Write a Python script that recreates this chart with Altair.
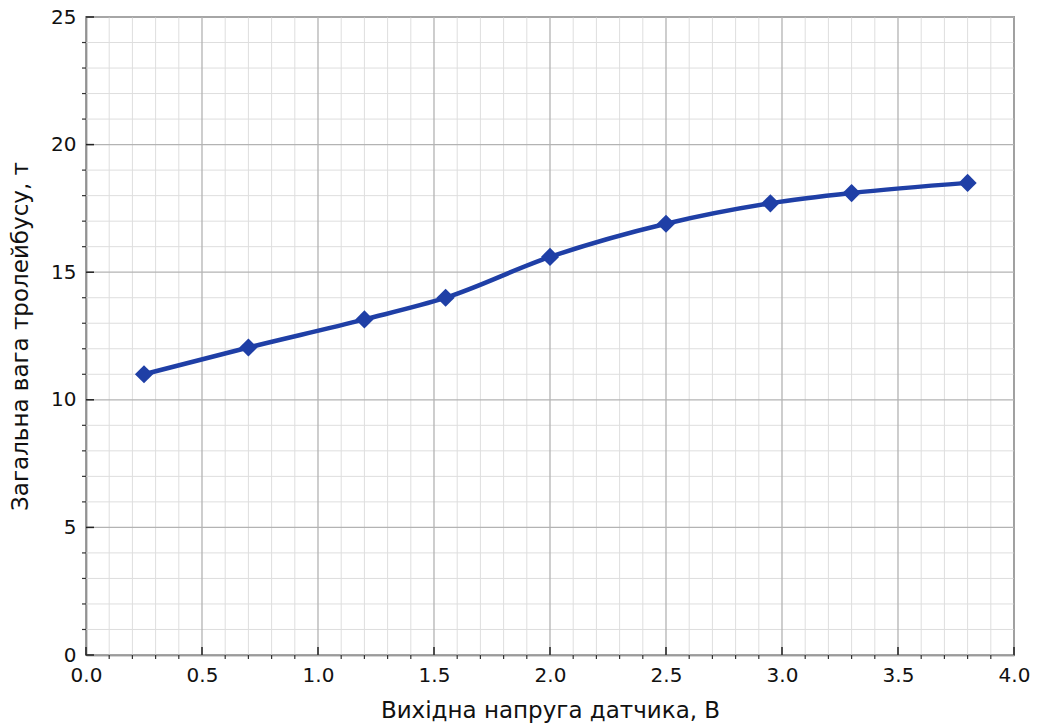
import altair as alt
import pandas as pd

# data
volts = [0.25, 0.70, 1.20, 1.55, 2.00, 2.50, 2.95, 3.30, 3.80]
weight = [11.0, 12.05, 13.15, 14.0, 15.6, 16.9, 17.7, 18.1, 18.5]

x_major = [0.0, 0.5, 1.0, 1.5, 2.0, 2.5, 3.0, 3.5, 4.0]
x_minor = [round(i * 0.1, 1) for i in range(41)]
y_major = [0, 5, 10, 15, 20, 25]
y_minor = list(range(26))

W, H = 928, 638
FONT = "DejaVu Sans"
LINE_COLOR = "#1f3fa6"

df = pd.DataFrame({"v": volts, "w": weight})
xs = alt.Scale(domain=[0, 4], nice=False, zero=False)
ys = alt.Scale(domain=[0, 25], nice=False, zero=False)

x_axis = alt.Axis(
    values=x_major, format=".1f", grid=False, ticks=False,
    labelFontSize=20, labelFont=FONT, labelColor="#111", labelPadding=10,
    labelOverlap=False, labelFlush=False, labelBound=False,
    title="Вихідна напруга датчика, В", titleFontSize=23, titleFont=FONT,
    titleFontWeight="normal", titleColor="#111", titlePadding=14,
    domainColor="#555", domainWidth=1.5,
)
y_axis = alt.Axis(
    values=y_major, format="d", grid=False, ticks=False,
    labelFontSize=20, labelFont=FONT, labelColor="#111", labelPadding=10,
    labelOverlap=False, labelFlush=False, labelBound=False,
    title="Загальна вага тролейбусу, т", titleFontSize=23, titleFont=FONT,
    titleFontWeight="normal", titleColor="#111", titlePadding=18,
    domainColor="#555", domainWidth=1.5,
)

xminor_df = pd.DataFrame({"x": [v for v in x_minor if v not in x_major]})
yminor_df = pd.DataFrame({"y": [v for v in y_minor if v not in y_major]})
xmajor_df = pd.DataFrame({"x": x_major})
ymajor_df = pd.DataFrame({"y": y_major})

gx_minor = alt.Chart(xminor_df).mark_rule(color="#dedede", strokeWidth=1).encode(
    x=alt.X("x:Q", scale=xs, axis=x_axis))
gy_minor = alt.Chart(yminor_df).mark_rule(color="#dedede", strokeWidth=1).encode(
    y=alt.Y("y:Q", scale=ys, axis=y_axis))
gx_major = alt.Chart(xmajor_df).mark_rule(color="#b3b3b3", strokeWidth=1.3).encode(
    x=alt.X("x:Q", scale=xs))
gy_major = alt.Chart(ymajor_df).mark_rule(color="#b3b3b3", strokeWidth=1.3).encode(
    y=alt.Y("y:Q", scale=ys))

# outward minor ticks
mtick_x = alt.Chart(xminor_df).mark_rule(color="#333", strokeWidth=1.2).encode(
    x=alt.X("x:Q", scale=xs), y=alt.value(H), y2=alt.value(H + 4))
mtick_y = alt.Chart(yminor_df).mark_rule(color="#333", strokeWidth=1.2).encode(
    y=alt.Y("y:Q", scale=ys), x=alt.value(0), x2=alt.value(-4))
# inward major ticks
tick_x = alt.Chart(xmajor_df).mark_rule(color="#222", strokeWidth=1.5).encode(
    x=alt.X("x:Q", scale=xs), y=alt.value(H), y2=alt.value(H - 8))
tick_y = alt.Chart(ymajor_df).mark_rule(color="#222", strokeWidth=1.5).encode(
    y=alt.Y("y:Q", scale=ys), x=alt.value(0), x2=alt.value(8))

line = alt.Chart(df).mark_line(color=LINE_COLOR, strokeWidth=4.5, interpolate="monotone").encode(
    x=alt.X("v:Q", scale=xs), y=alt.Y("w:Q", scale=ys))
pts = alt.Chart(df).mark_point(shape="diamond", filled=True, size=330, color=LINE_COLOR, opacity=1).encode(
    x=alt.X("v:Q", scale=xs), y=alt.Y("w:Q", scale=ys))

chart = alt.layer(gx_minor, gy_minor, gx_major, gy_major, line, pts,
                  mtick_x, mtick_y, tick_x, tick_y).properties(
    width=W, height=H,
    autosize=alt.AutoSizeParams(type="none"),
    padding={"left": 86, "top": 17, "right": 24, "bottom": 69},
    background="white",
).configure_view(stroke="#555", strokeWidth=1.5)

chart.save("out.html", embed_options={"renderer": "svg", "actions": False})
